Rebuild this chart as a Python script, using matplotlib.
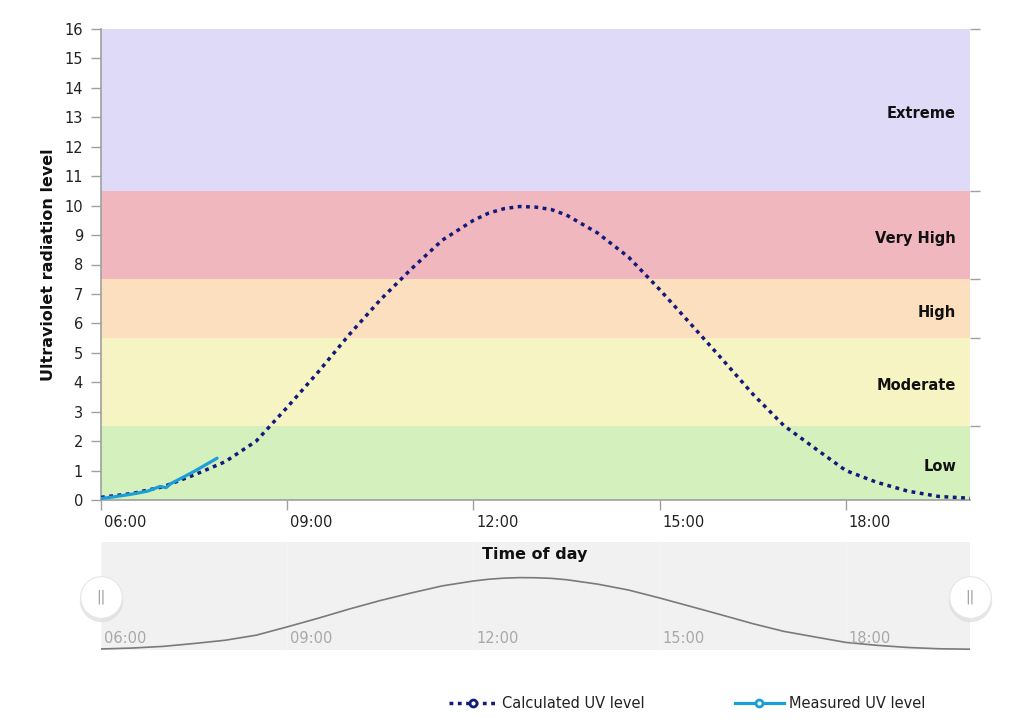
import numpy as np
import matplotlib
matplotlib.use("Agg")
import matplotlib.pyplot as plt
import matplotlib.transforms as mtransforms
from matplotlib.lines import Line2D

# ── Data ──────────────────────────────────────────────────────────────────
# time in decimal hours of the day
calc_hours = [6.0, 6.5, 7.0, 7.5, 8.0, 8.5, 9.0, 9.5, 10.0, 10.5, 11.0, 11.5,
              12.0, 12.25, 12.5, 12.75, 13.0, 13.25, 13.5, 14.0, 14.5, 15.0,
              15.5, 16.0, 16.5, 17.0, 17.5, 18.0, 18.5, 19.0, 19.5, 20.0]
calc_uv = [0.09, 0.22, 0.45, 0.85, 1.30, 2.00, 3.15, 4.35, 5.62, 6.80, 7.85, 8.83,
           9.50, 9.75, 9.90, 9.97, 9.95, 9.87, 9.68, 9.07, 8.25, 7.15,
           5.98, 4.80, 3.60, 2.53, 1.76, 1.00, 0.60, 0.30, 0.12, 0.06]

meas_hours = [6.0, 6.25, 6.5, 6.75, 6.95, 7.05, 7.12, 7.5, 7.87]
meas_uv = [0.05, 0.12, 0.20, 0.30, 0.46, 0.42, 0.55, 0.97, 1.42]

band_edges = [0, 2.5, 5.5, 7.5, 10.5, 16]
band_names = ["Low", "Moderate", "High", "Very High", "Extreme"]
band_colors = ["#d4f1bd", "#f7f4c3", "#fbdfbf", "#f0b7be", "#dfdaf8"]

tick_hours = [6, 9, 12, 15, 18]
tick_labels = ["06:00", "09:00", "12:00", "15:00", "18:00"]

CALC_COLOR = "#141a7c"
MEAS_COLOR = "#1c9fd6"
GREY = "#a0a0a0"

# ── Figure ────────────────────────────────────────────────────────────────
fig = plt.figure(figsize=(10.24, 7.28), dpi=100)
ax = fig.add_axes([101 / 1024, 1 - 500 / 728, 869 / 1024, 471 / 728])

for lo, hi, name, col in zip(band_edges[:-1], band_edges[1:], band_names, band_colors):
    ax.axhspan(lo, hi, color=col, lw=0, zorder=0)
    ax.text(0.984, (lo + hi) / 2 - 0.12, name, transform=ax.get_yaxis_transform(),
            ha="right", va="center", fontsize=10.5, fontweight="bold", color="#111")

ax.plot(calc_hours, calc_uv, color=CALC_COLOR, lw=2.5,
        linestyle=(0, (1.1, 1.3)), zorder=3, solid_joinstyle="round")
ax.plot(meas_hours, meas_uv, color=MEAS_COLOR, lw=2.3, zorder=4,
        solid_capstyle="round")

ax.set_xlim(6, 20)
ax.set_ylim(0, 16)
ax.set_yticks(range(0, 17))
ax.set_xticks(tick_hours)
ax.set_xticklabels(tick_labels)
ax.tick_params(axis="both", colors=GREY, labelcolor="#222", labelsize=10.5,
               length=7, width=1)
ax.tick_params(axis="y", pad=6)
ax.tick_params(axis="x", pad=4)
offset = mtransforms.ScaledTranslation(3 / 100, 0, fig.dpi_scale_trans)
for lbl in ax.get_xticklabels():
    lbl.set_ha("left")
    lbl.set_transform(lbl.get_transform() + offset)
for side in ["top", "right"]:
    ax.spines[side].set_visible(False)
for side in ["left", "bottom"]:
    ax.spines[side].set_color(GREY)
    ax.spines[side].set_linewidth(1.2)
ax.set_ylabel("Ultraviolet radiation level", fontsize=11.5, fontweight="bold",
              color="#111", labelpad=6)

# right side ticks at band boundaries
ax_r = ax.twinx()
ax_r.set_ylim(0, 16)
ax_r.set_yticks(band_edges[1:])
ax_r.set_yticklabels([])
ax_r.tick_params(axis="y", colors=GREY, length=7, width=1)
for side in ax_r.spines:
    ax_r.spines[side].set_visible(False)

# ── Navigator ─────────────────────────────────────────────────────────────
nav = fig.add_axes([101 / 1024, 1 - 650 / 728, 869 / 1024, 108 / 728])
nav.set_facecolor("#f1f1f1")
nav.plot(calc_hours, calc_uv, color="#7a7a7a", lw=1.2, solid_joinstyle="round")
nav.set_xlim(6, 20)
nav.set_ylim(-0.05, 14.9)
nav.set_xticks(tick_hours)
nav.grid(axis="x", color="#f5f5f5", lw=1)
nav.tick_params(length=0, labelbottom=False, labelleft=False)
nav.set_yticks([])
for side in nav.spines:
    nav.spines[side].set_visible(False)
for h, lab in zip(tick_hours, tick_labels):
    t = nav.text(h, 0.04, lab, transform=nav.get_xaxis_transform(),
                 ha="left", va="bottom", fontsize=10.5, color="#a8a8a8")
    t.set_transform(t.get_transform() + offset)

# handles
for hx in [6, 20]:
    nav.scatter([hx], [0.46], s=980, transform=nav.get_xaxis_transform(),
                color="#d8d8d8", alpha=0.6, clip_on=False, zorder=5, lw=0)
    nav.scatter([hx], [0.49], s=900, transform=nav.get_xaxis_transform(),
                color="white", edgecolors="#e6e6e6", lw=0.8, clip_on=False,
                zorder=6)
    nav.text(hx, 0.49, "||", transform=nav.get_xaxis_transform(), ha="center",
             va="center", fontsize=10, color="#999", zorder=7)

fig.text(535 / 1024, 1 - 555 / 728, "Time of day", ha="center", va="center",
         fontsize=11.5, fontweight="bold", color="#111")

# ── Legend ────────────────────────────────────────────────────────────────
handles = [
    Line2D([], [], color=CALC_COLOR, lw=2.5, linestyle=(0, (1.1, 1.3)),
           marker="o", ms=5, mfc="white", mec=CALC_COLOR, mew=2),
    Line2D([], [], color=MEAS_COLOR, lw=2.3, marker="o", ms=5, mfc="white",
           mec=MEAS_COLOR, mew=2),
]
fig.legend(handles, ["Calculated UV level", "Measured UV level"], ncols=2,
           loc="center left", bbox_to_anchor=(436 / 1024, 1 - 704 / 728),
           frameon=False, fontsize=10.5, handlelength=3.3, handletextpad=0.35,
           columnspacing=6.2, labelcolor="#222")

fig.savefig("out.png", dpi=100)
